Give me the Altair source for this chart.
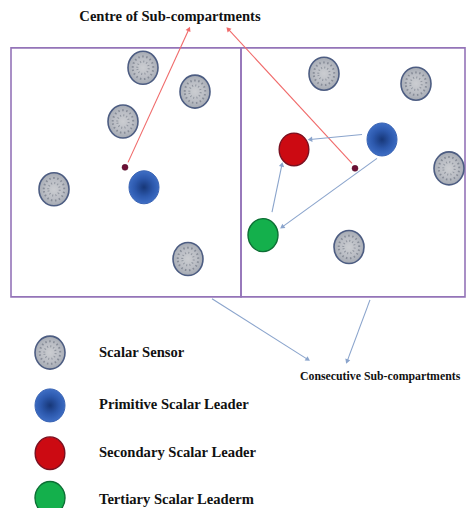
import math
import altair as alt
import pandas as pd

# ---------------- data (reference pixel space) ----------------
box_x1 = [11, 241]
box_x2 = [241, 465]
box_y1 = [48, 48]
box_y2 = [298, 298]

sensor_x = [143, 195, 123, 54, 188, 324, 416, 449, 349, 50]
sensor_y = [68, 92, 122, 190, 260, 74, 84, 169, 248, 354]

primitive_x = [144, 382, 50]
primitive_y = [188, 140, 407]
secondary_x = [294, 50]
secondary_y = [150, 455]
tertiary_x = [263, 50]
tertiary_y = [236, 500]

centre_x = [125, 355]
centre_y = [168, 169]

arrow_x1 = [128, 352, 362, 377, 272, 212, 370]
arrow_y1 = [163, 164, 135, 159, 213, 300, 301]
arrow_x2 = [189, 228, 310, 282, 282, 308, 347]
arrow_y2 = [29, 29, 140, 228, 165, 361, 363]
arrow_kind = ["red", "red", "blue", "blue", "blue", "blue", "blue"]

legend_labels = ["Scalar Sensor", "Primitive Scalar Leader",
                 "Secondary Scalar Leader", "Tertiary Scalar Leaderm"]
legend_label_x = [99, 99, 99, 99]
legend_label_y = [354, 407, 455, 502]

title_text = ["Centre of Sub-compartments"]
title_x = [170]
title_y = [17]

note_text = ["Consecutive Sub-compartments"]
note_x = [300]
note_y = [377]

# ---------------- scales ----------------
W, H = 458, 500
XS = alt.Scale(domain=[8, 466], nice=False, zero=False)
YS = alt.Scale(domain=[8, 510], nice=False, zero=False, reverse=True)


def X(f="x"):
    return alt.X(f"{f}:Q", scale=XS, axis=None)


def Y(f="y"):
    return alt.Y(f"{f}:Q", scale=YS, axis=None)


ELLIPSE = "M-1,0A1,1.1,0,1,1,1,0A1,1.1,0,1,1,-1,0Z"

# ---------------- layers ----------------
boxes = pd.DataFrame({"x": box_x1, "x2": box_x2, "y": box_y1, "y2": box_y2})
box_layer = alt.Chart(boxes).mark_rect(
    fill=None, filled=False, stroke="#9474b8", strokeWidth=1.6
).encode(x=X(), x2="x2:Q", y=Y(), y2="y2:Q")

arr = pd.DataFrame({"x": arrow_x1, "y": arrow_y1, "x2": arrow_x2,
                    "y2": arrow_y2, "kind": arrow_kind})
arr["ang"] = [
    (math.degrees(math.atan2(bx - ax, -(by - ay))) + 360) % 360
    for ax, ay, bx, by in zip(arr.x, arr.y, arr.x2, arr.y2)
]
arr_color = alt.Color("kind:N", scale=alt.Scale(domain=["red", "blue"],
                      range=["#f06a6a", "#8aa4cc"]), legend=None)
head_color = alt.Color("kind:N", scale=alt.Scale(domain=["red", "blue"],
                       range=["#e83a3a", "#4a6aa8"]), legend=None)
rule_layer = alt.Chart(arr).mark_rule(strokeWidth=1.1).encode(
    x=X(), y=Y(), x2="x2:Q", y2="y2:Q", color=arr_color)
head_layer = alt.Chart(arr).mark_point(
    shape="triangle-up", filled=True, size=28, opacity=1
).encode(x=X("x2"), y=Y("y2"), angle=alt.Angle("ang:Q", scale=None),
         color=head_color)

sensors = pd.DataFrame({"x": sensor_x, "y": sensor_y})
sensor_layer = alt.Chart(sensors).mark_point(
    shape=ELLIPSE, size=900, filled=True, opacity=1,
    fill={"gradient": "radial",
          "stops": [{"offset": 0, "color": "#cbcdd1"},
                    {"offset": 0.6, "color": "#babdc4"},
                    {"offset": 1, "color": "#a4a9b2"}]},
    stroke="#4d5d82", strokeWidth=1.6
).encode(x=X(), y=Y())
# speckled texture of the sensor discs
speck1 = alt.Chart(sensors).mark_point(
    shape=ELLIPSE, size=420, filled=False, opacity=0.8,
    stroke="#7c828e", strokeWidth=2, strokeDash=[1.5, 2.5]
).encode(x=X(), y=Y())
speck2 = alt.Chart(sensors).mark_point(
    shape=ELLIPSE, size=130, filled=False, opacity=0.8,
    stroke="#858b96", strokeWidth=2, strokeDash=[1, 2.2]
).encode(x=X(), y=Y())

prim = pd.DataFrame({"x": primitive_x, "y": primitive_y})
prim_layer = alt.Chart(prim).mark_point(
    shape=ELLIPSE, size=900, filled=True, opacity=1,
    fill={"gradient": "radial",
          "stops": [{"offset": 0, "color": "#173778"},
                    {"offset": 0.55, "color": "#2c58ac"},
                    {"offset": 1, "color": "#3f6fc6"}]},
    stroke="#3a64b4", strokeWidth=1
).encode(x=X(), y=Y())

sec = pd.DataFrame({"x": secondary_x, "y": secondary_y})
sec_layer = alt.Chart(sec).mark_point(
    shape=ELLIPSE, size=880, filled=True, opacity=1,
    fill="#cc0a12", stroke="#7a1020", strokeWidth=1.4
).encode(x=X(), y=Y())

ter = pd.DataFrame({"x": tertiary_x, "y": tertiary_y})
ter_layer = alt.Chart(ter).mark_point(
    shape=ELLIPSE, size=900, filled=True, opacity=1,
    fill="#14b04c", stroke="#0d6e34", strokeWidth=1.4
).encode(x=X(), y=Y())

cen = pd.DataFrame({"x": centre_x, "y": centre_y})
cen_layer = alt.Chart(cen).mark_point(
    shape="circle", size=36, filled=True, opacity=1,
    fill="#6e0f35", stroke="#4a0a22", strokeWidth=0.5
).encode(x=X(), y=Y())

FONT = "Liberation Serif"
title_df = pd.DataFrame({"x": title_x, "y": title_y, "t": title_text})
title_layer = alt.Chart(title_df).mark_text(
    font=FONT, fontWeight="bold", fontSize=14.6, color="#111111",
    align="center", baseline="middle"
).encode(x=X(), y=Y(), text="t:N")

note_df = pd.DataFrame({"x": note_x, "y": note_y, "t": note_text})
note_layer = alt.Chart(note_df).mark_text(
    font=FONT, fontWeight="bold", fontSize=11.8, color="#111111",
    align="left", baseline="middle"
).encode(x=X(), y=Y(), text="t:N")

leg_df = pd.DataFrame({"x": legend_label_x, "y": legend_label_y,
                       "t": legend_labels})
leg_layer = alt.Chart(leg_df).mark_text(
    font=FONT, fontWeight="bold", fontSize=14.6, color="#111111",
    align="left", baseline="middle"
).encode(x=X(), y=Y(), text="t:N")

chart = alt.layer(
    box_layer, rule_layer, head_layer, sensor_layer, speck1, speck2,
    prim_layer, sec_layer, ter_layer, cen_layer, title_layer, note_layer,
    leg_layer
).properties(
    width=W, height=H, padding=0,
    autosize=alt.AutoSizeParams(type="none"), background="white"
).configure_view(stroke=None)

chart.save("out.html", embed_options={"renderer": "svg", "actions": False})
